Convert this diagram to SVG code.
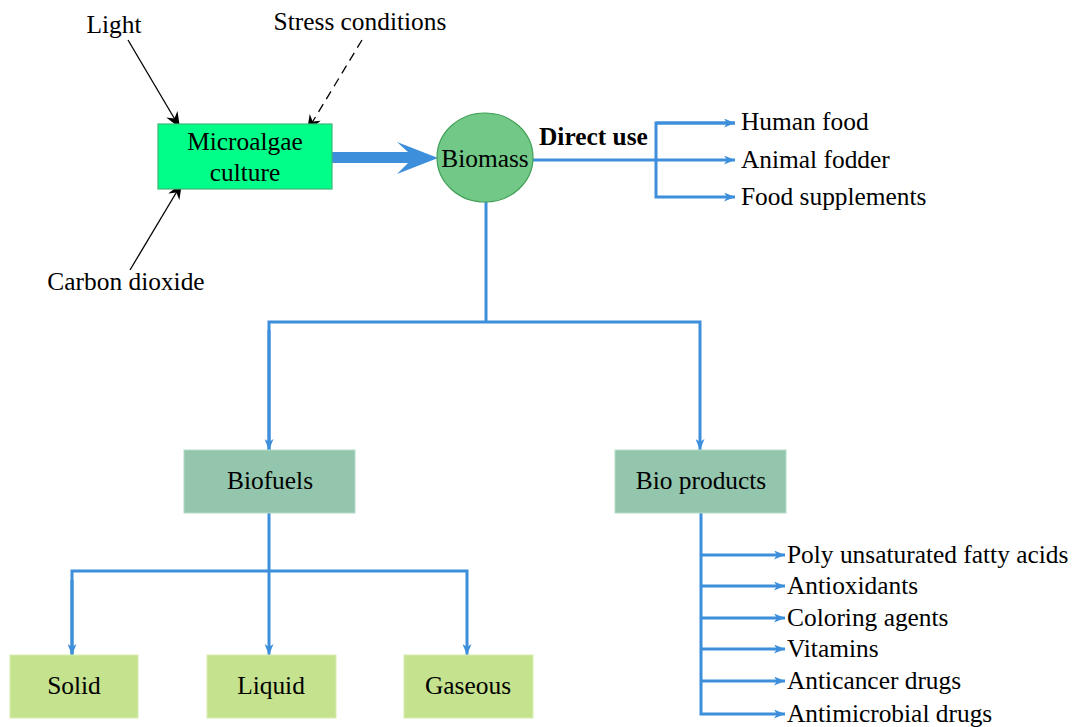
<svg xmlns="http://www.w3.org/2000/svg" width="1073" height="727" viewBox="0 0 1073 727">
<style>
text{font-family:"Liberation Serif","Times New Roman",serif;font-size:25.4px;fill:#000}
.c{text-anchor:middle}
.b{stroke:#3d8edb;stroke-width:3;fill:none}
.k{stroke:#000;stroke-width:1.3;fill:none}
.box2{fill:#93c6ad;stroke:#b4dcc8;stroke-width:1}
.box3{fill:#c5e28e;stroke:#d8eeb0;stroke-width:1}
</style>
<defs>
<marker id="ab" markerUnits="userSpaceOnUse" markerWidth="11" markerHeight="9" refX="11" refY="4.5" orient="auto">
<path d="M0,0 L11,4.5 L0,9 L3,4.5 Z" fill="#3d8edb"/>
</marker>
<marker id="ak" markerUnits="userSpaceOnUse" markerWidth="16" markerHeight="13" refX="16" refY="6.5" orient="auto">
<path d="M0,0 L16,6.5 L0,13 L5,6.5 Z" fill="#000"/>
</marker>
</defs>
<rect width="1073" height="727" fill="#fff"/>

<g id="connectors">
<line class="k" x1="128" y1="40" x2="180" y2="128" marker-end="url(#ak)"/>
<line class="k" x1="362" y1="40" x2="307" y2="131" stroke-dasharray="9,6" marker-end="url(#ak)"/>
<line class="k" x1="130" y1="270" x2="182" y2="183" marker-end="url(#ak)"/>
<path d="M332,152 L408,152 L397,142 L438,158 L397,174 L408,163 L332,163 Z" fill="#3d8edb"/>
<polyline class="b" points="533,160 656,160"/>
<polyline class="b" points="735,123 656,123 656,197 735,197" marker-end="url(#ab)"/>
<line class="b" x1="656" y1="123" x2="735" y2="123" marker-end="url(#ab)"/>
<line class="b" x1="656" y1="160" x2="735" y2="160" marker-end="url(#ab)"/>
<polyline class="b" points="486,202 486,322"/>
<polyline class="b" points="269,450 269,322 700,322 700,450" marker-end="url(#ab)"/>
<line class="b" x1="269" y1="330" x2="269" y2="450" marker-end="url(#ab)"/>
<polyline class="b" points="269,513 269,571"/>
<polyline class="b" points="72,655 72,571 467,571 467,655" marker-end="url(#ab)"/>
<line class="b" x1="72" y1="580" x2="72" y2="655" marker-end="url(#ab)"/>
<line class="b" x1="269" y1="571" x2="269" y2="655" marker-end="url(#ab)"/>
<polyline class="b" points="701,513 701,714 785,714" marker-end="url(#ab)"/>
<line class="b" x1="701" y1="555" x2="785" y2="555" marker-end="url(#ab)"/>
<line class="b" x1="701" y1="586" x2="785" y2="586" marker-end="url(#ab)"/>
<line class="b" x1="701" y1="618" x2="785" y2="618" marker-end="url(#ab)"/>
<line class="b" x1="701" y1="649" x2="785" y2="649" marker-end="url(#ab)"/>
<line class="b" x1="701" y1="681" x2="785" y2="681" marker-end="url(#ab)"/>
</g>

<g id="light"><text class="c" x="114" y="33">Light</text></g>
<g id="stress"><text class="c" x="360" y="30">Stress conditions</text></g>
<g id="co2"><text class="c" x="126" y="290">Carbon dioxide</text></g>

<g id="microalgae">
<rect x="158" y="124" width="174" height="65" fill="#00fe88" stroke="#3cb878" stroke-width="1.2"/>
<text class="c" x="245" y="150">Microalgae</text>
<text class="c" x="245" y="181">culture</text>
</g>

<g id="biomass">
<ellipse cx="485" cy="157.5" rx="48" ry="44.5" fill="#71c887" stroke="#3f9f55" stroke-width="1.2"/>
<text class="c" x="485" y="167">Biomass</text>
</g>

<g id="directuse"><text x="539" y="145" font-weight="bold">Direct use</text></g>
<g id="humanfood"><text x="741" y="130">Human food</text></g>
<g id="animalfodder"><text x="741" y="168">Animal fodder</text></g>
<g id="foodsupp"><text x="741" y="205">Food supplements</text></g>

<g id="biofuels">
<rect class="box2" x="184" y="450" width="171" height="63"/>
<text class="c" x="270" y="489">Biofuels</text>
</g>
<g id="bioproducts">
<rect class="box2" x="615" y="450" width="171" height="63"/>
<text class="c" x="701" y="489">Bio products</text>
</g>

<g id="solid">
<rect class="box3" x="10" y="655" width="128" height="63"/>
<text class="c" x="74" y="694">Solid</text>
</g>
<g id="liquid">
<rect class="box3" x="207" y="655" width="129" height="63"/>
<text class="c" x="271" y="694">Liquid</text>
</g>
<g id="gaseous">
<rect class="box3" x="404" y="655" width="129" height="63"/>
<text class="c" x="468" y="694">Gaseous</text>
</g>

<g id="pufa"><text x="787" y="563">Poly unsaturated fatty acids</text></g>
<g id="antiox"><text x="787" y="594">Antioxidants</text></g>
<g id="coloring"><text x="787" y="626">Coloring agents</text></g>
<g id="vitamins"><text x="787" y="657">Vitamins</text></g>
<g id="anticancer"><text x="787" y="689">Anticancer drugs</text></g>
<g id="antimicrobial"><text x="787" y="722">Antimicrobial drugs</text></g>
</svg>
